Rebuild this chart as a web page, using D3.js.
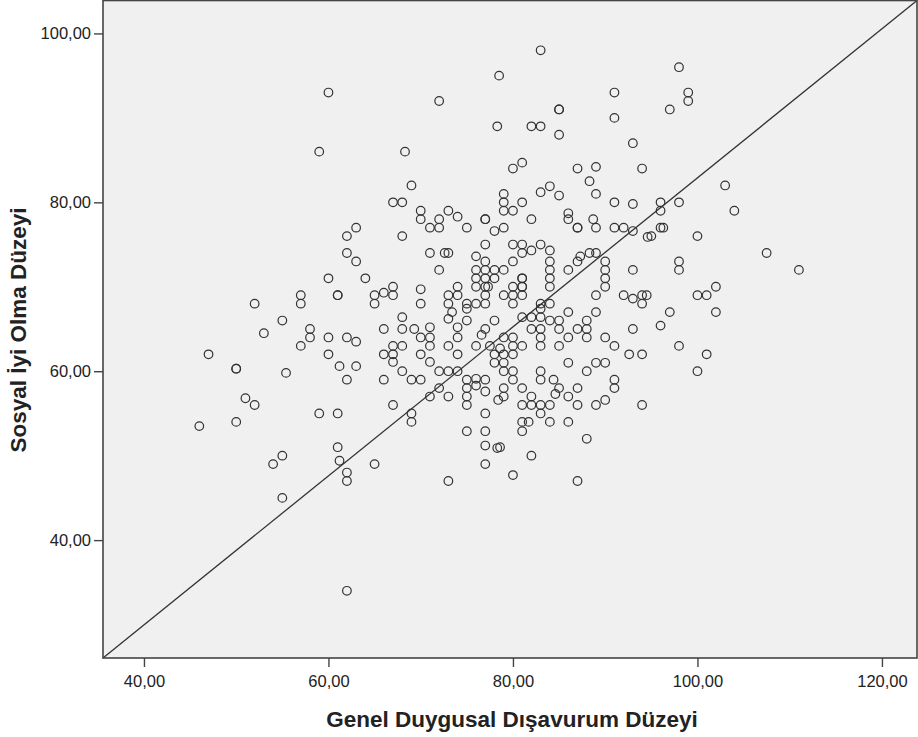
<!DOCTYPE html>
<html>
<head>
<meta charset="utf-8">
<script src="https://cdn.jsdelivr.net/npm/d3@7"></script>
<style>
  body { margin: 0; background: #fff; }
  svg { display: block; }
</style>
</head>
<body>
<div id="chart"></div>
<script>
// x values: Genel Duygusal Dışavurum Düzeyi, y values: Sosyal İyi Olma Düzeyi
const xVals = [
  60,59,63,62,62,63,60,61,61,57,57,52,55,
  53,58,58,57,60,62,63,47,60,61.2,62,63,50,50,55.4,51,52,46,50,59,61,61,61.2,62,62,55,54,55,62,
  78.5,72,78.3,68.3,69,67,68,70,70,71,72,72,73,74,75,68,77,77,78,79,79,79,79,77,71,72.6,73,72,76,77,76,77,78,76,77,78,76,77,77.3,77,77,76,79,64,65,65,66,67,67,70,70,68,73,73,74,74,75,75,73.4,73,75,78,
  83,91,85,85,91,82,83,85,93,80,81,87,89,94,88.3,83,84,85,89,81,80,91,93,82,86,86,87,87,88.7,89,91,92,93,94.6,80,81,82,83,80,81,84,84,84,84,84,81,81,81,81,80,79,80,81,80,83,83,84,83,82,81,86,87,87.3,88.3,89,90,90,90,90,93,89,92,93,94,94.5,94,86,89,88,
  98,99,99,97,103,104,96,96,98,96,96.3,95,100,107.5,111,98,98,100,101,102,97,102,96,
  98,101,100,
  93,90,91,92.6,94,86,88,89,90,91,91,87,90,89,94,86,84,88,82,80,87,81,81.7,81,84,83,82,81,83,85,84.6,86,87,84.4,83,83,81,82,80,80,79,79,79,79,78.6,84,85,82,83,85,87,88,83,86,88,83,85,81,80,80,79,80,79,
  66,68,69.3,71,74,67,66,67,67,68,70,71,71,70,71,73,74,74,68,69,70,66,72,73,74,72,71,73,75,75,75,75,76,76,77,77,76,77,76.6,77.5,78,78,78.6,78.4,67,69,69,65,73,75,77,77,77,78.3,77
];
const yVals = [
  93,86,77,76,74,73,71,69,69,69,68,68,66,
  64.5,65,64,63,64,64,63.5,62,62,60.6,59,60.6,60.3,60.3,59.8,56.8,56,53.5,54,55,55,51,49.4,48,47,50,49,45,34,
  95,92,89,86,82,80,80,79,78,77,78,77,79,78.3,77,76,78,78,76.6,81,80,79,77,75,74,74,74,72,73.6,73,72,72,72,71,71,71,70,70,70,69,68,68,69,71,69,68,69.3,70,69,69.7,68,66.4,69,68,70,69,68,67.4,67,66.2,66,66,
  98,93,91,91,90,89,89,88,87,84,84.7,84,84.2,84,82.5,81.2,81.9,80.8,81,80,79,80,79.8,78,78.7,78,77,77,78,77,77,77,76.6,75.9,75,75,74.3,75,73,74,74.3,73,72,71,70,71,71,70,70,70,72,69,69,68,68,67.4,68,66.4,66.4,66.4,72,73,73.6,74,74,73,72,71,70,72,69,69,68.6,69,69,68,67,67,66,
  96,93,92,91,82,79,80,79,80,77,77,76,76,74,72,73,72,69,69,70,67,67,65.4,
  63,62,60,
  65,64,63,62,62,61,60,61,61,59,58,58,56.6,56,56,54,54,52,50,47.7,47,54,54,52.9,56,56,56,56,55,58,57.3,57,56,59,60,59,58,57,60,59,61,60,58,57,51,66,66,65,65,65,65,65,64,64,64,63,63,63,63,64,64,62,62,
  65,65,65,65.2,65.2,63,62,62,61.1,63,64,64,63,62,61.1,63,64,62,60,59,59,59,60,60,60,58,57,57,59,58,57,56,59.1,58.3,59,57.6,63,65,64.3,63,62,61,62.7,56.6,56,55,54,49,47,52.9,55,52.9,51.2,50.9,49
];
const xTicks = [40, 60, 80, 100, 120];
const yTicks = [40, 60, 80, 100];
const xTitle = "Genel Duygusal Dışavurum Düzeyi";
const yTitle = "Sosyal İyi Olma Düzeyi";

const width = 918, height = 737;
const plot = {left: 103, top: 0.5, right: 917, bottom: 658};
const font = "Arial, 'Liberation Sans', sans-serif";

const svg = d3.select("#chart").append("svg")
  .attr("width", width)
  .attr("height", height);

const x = d3.scaleLinear()
  .domain([35.56, 123.8])
  .range([plot.left, plot.right]);
const y = d3.scaleLinear()
  .domain([26.04, 103.9])
  .range([plot.bottom, plot.top]);

const fmt = d => d.toFixed(2).replace(".", ",");

// plot background
svg.append("rect")
  .attr("x", plot.left)
  .attr("y", plot.top)
  .attr("width", plot.right - plot.left)
  .attr("height", plot.bottom - plot.top)
  .attr("fill", "#f0f0f0");

// axes
const xAxis = d3.axisBottom(x).tickValues(xTicks).tickFormat(fmt).tickSize(9).tickSizeOuter(0);
const yAxis = d3.axisLeft(y).tickValues(yTicks).tickFormat(fmt).tickSize(9).tickSizeOuter(0);

svg.append("g")
  .attr("transform", `translate(0, ${plot.bottom})`)
  .call(xAxis)
  .call(g => g.select(".domain").remove())
  .call(g => g.selectAll(".tick line").attr("stroke", "#444").attr("stroke-width", 1.4))
  .call(g => g.selectAll(".tick text")
    .attr("font-family", font)
    .attr("font-size", 16.5).attr("fill", "#222")
    .attr("y", 29).attr("dy", 0));

svg.append("g")
  .attr("transform", `translate(${plot.left}, 0)`)
  .call(yAxis)
  .call(g => g.select(".domain").remove())
  .call(g => g.selectAll(".tick line").attr("stroke", "#444").attr("stroke-width", 1.4))
  .call(g => g.selectAll(".tick text")
    .attr("font-family", font)
    .attr("font-size", 16.5).attr("fill", "#222").attr("x", -12));

// diagonal line across the plot
const fitLine = [[x.domain()[0], y.domain()[0]], [x.domain()[1], y.domain()[1]]];
svg.append("path")
  .datum(fitLine)
  .attr("d", d3.line().x(d => x(d[0])).y(d => y(d[1])))
  .attr("fill", "none")
  .attr("stroke", "#333")
  .attr("stroke-width", 1.3);

// points
const points = xVals.map((v, i) => ({x: v, y: yVals[i]}));
svg.append("g")
  .selectAll("circle")
  .data(points)
  .join("circle")
  .attr("cx", d => x(d.x))
  .attr("cy", d => y(d.y))
  .attr("r", 4.3)
  .attr("fill", "none")
  .attr("stroke", "#333")
  .attr("stroke-width", 1.2);

// frame
svg.append("rect")
  .attr("x", plot.left)
  .attr("y", plot.top)
  .attr("width", plot.right - plot.left)
  .attr("height", plot.bottom - plot.top)
  .attr("fill", "none")
  .attr("stroke", "#444")
  .attr("stroke-width", 1.6);

// axis titles
svg.append("text")
  .attr("x", 512)
  .attr("y", 727)
  .attr("text-anchor", "middle")
  .attr("font-family", font)
  .attr("font-weight", "bold")
  .attr("font-size", 22.5)
  .attr("fill", "#222")
  .text(xTitle);

svg.append("text")
  .attr("transform", `translate(26, 330) rotate(-90)`)
  .attr("text-anchor", "middle")
  .attr("font-family", font)
  .attr("font-weight", "bold")
  .attr("font-size", 22.5)
  .attr("fill", "#222")
  .text(yTitle);
</script>
</body>
</html>
